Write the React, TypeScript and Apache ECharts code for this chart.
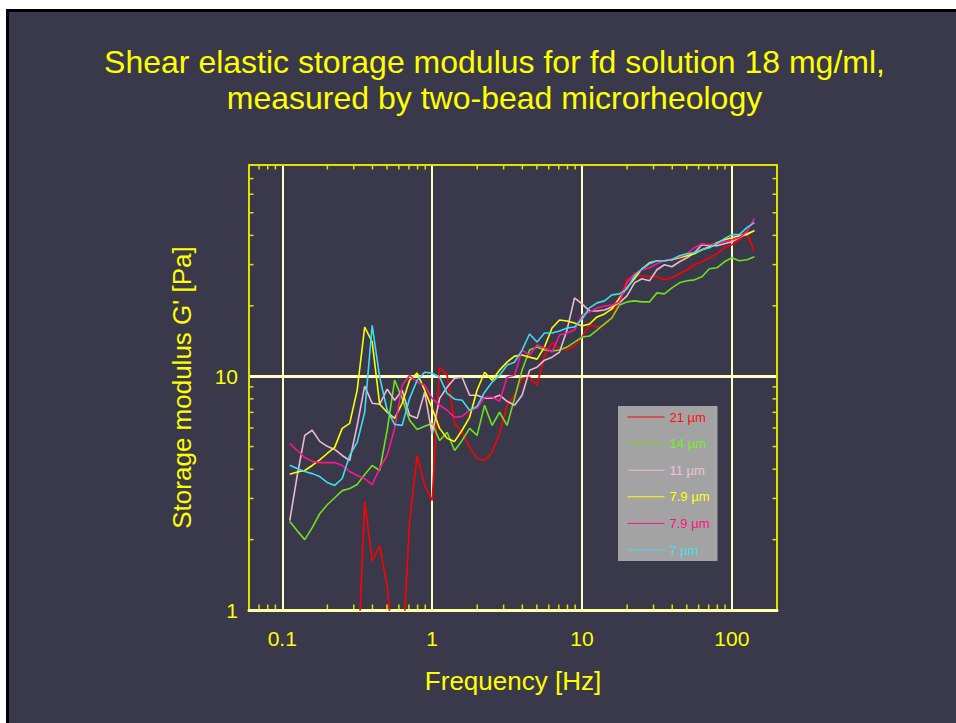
import React, { useEffect, useRef } from "react";
import * as echarts from "echarts";

// ---- data ----
const freqHz = [
  0.1122, 0.1259, 0.1413, 0.1585, 0.1778, 0.1995, 0.2239, 0.2512, 0.2818, 0.3162,
  0.3548, 0.3981, 0.4467, 0.5012, 0.5623, 0.631, 0.7079, 0.7943, 0.8913, 1.0,
  1.122, 1.259, 1.413, 1.585, 1.778, 1.995, 2.239, 2.512, 2.818, 3.162,
  3.548, 3.981, 4.467, 5.012, 5.623, 6.31, 7.079, 7.943, 8.913, 10.0,
  11.22, 12.59, 14.13, 15.85, 17.78, 19.95, 22.39, 25.12, 28.18, 31.62,
  35.48, 39.81, 44.67, 50.12, 56.23, 63.1, 70.79, 79.43, 89.13, 100.0,
  112.2, 125.9, 141.3,
];

const g21um = [
  null, null, null, null, null, null, null, null, null, 0.5,
  2.91, 1.62, 1.88, 1.27, 0.6, 0.6, 2.41, 4.58, 3.41, 2.94,
  10.9, 10.1, 6.28, 5.75, 4.96, 4.45, 4.36, 4.72, 5.69, 7.51,
  8.29, 9.8, 9.9, 9.15, 12.31, 13.86, 13.19, 12.93, 13.45, 14.7,
  16.55, 16.23, 16.55, 17.92, 21.2, 25.82, 27.13, 26.86, 26.6, 26.6,
  25.82, 26.34, 27.4, 28.51, 29.95, 30.85, 32.1, 33.39, 35.43, 36.49,
  38.34, 41.09, 34.06,
];

const g14um = [
  2.39, 2.18, 2.0, 2.25, 2.58, 2.82, 3.02, 3.24, 3.31, 3.44,
  3.8, 4.15, 3.95, 5.87, 9.61, 8.04, 6.47, 5.92, 6.1, 6.28,
  5.31, 5.75, 4.81, 5.31, 5.98, 5.58, 7.51, 6.16, 7.01, 6.16,
  8.04, 10.61, 12.93, 13.32, 12.93, 12.81, 12.93, 13.32, 13.99, 14.7,
  14.85, 15.75, 16.72, 17.74, 20.17, 20.78, 20.99, 20.78, 20.78, 22.71,
  22.49, 23.86, 25.07, 25.57, 25.82, 26.6, 28.79, 29.08, 30.85, 32.1,
  31.16, 31.47, 32.41,
];

const g11um = [
  2.41, 3.76, 5.58, 5.87, 5.26, 5.01, 4.86, 4.58, 4.36, 6.16,
  9.06, 7.66, 7.58, 8.8, 7.89, 8.71, 6.8, 6.6, 8.54, 5.64,
  8.04, 8.97, 9.8, 9.9, 8.29, 8.29, 8.04, 8.04, 8.29, 7.81,
  7.51, 8.29, 10.61, 10.93, 11.71, 12.06, 12.68, 15.75, 21.61, 20.37,
  19.01, 19.01, 19.2, 19.78, 20.58, 22.04, 25.07, 26.09, 25.57, 28.51,
  29.95, 29.37, 30.85, 32.1, 33.73, 36.49, 36.13, 36.13, 36.86, 37.59,
  39.12, 40.69, 41.92,
];

const g7p9umA = [
  3.81, 3.89, 3.95, 4.15, 4.39, 4.67, 4.96, 5.98, 6.28, 8.71,
  16.23, 14.0, 7.58, 7.01, 6.6, 7.66, 9.61, 10.3, 8.71, 7.29,
  5.98, 5.42, 5.26, 5.87, 6.67, 8.71, 10.4, 9.61, 10.61, 11.48,
  12.18, 12.31, 12.06, 11.83, 13.32, 16.07, 17.39, 17.22, 16.89, 16.39,
  16.72, 17.92, 18.46, 19.39, 21.61, 23.86, 26.09, 28.79, 30.55, 31.16,
  31.16, 31.47, 32.1, 32.73, 33.39, 34.74, 35.78, 37.22, 38.34, 39.12,
  39.9, 40.3, 41.92,
];

const g7p9umB = [
  5.16, 4.81, 4.49, 4.32, 4.27, 4.27, 4.27, 4.15, 3.91, 3.76,
  3.65, 3.44, 4.03, 4.58, 5.98, 9.15, 10.1, 9.42, 9.15, 8.04,
  7.51, 7.15, 6.67, 6.73, 7.15, 7.29, 8.13, 8.13, 7.81, 9.9,
  10.1, 12.93, 12.31, 13.59, 13.19, 12.68, 15.0, 15.29, 15.75, 18.27,
  18.82, 19.58, 19.97, 20.17, 20.78, 25.07, 27.4, 28.51, 29.08, 30.24,
  31.16, 31.78, 32.41, 33.39, 35.43, 36.86, 36.49, 36.86, 37.59, 38.34,
  39.12, 41.5, 47.19,
];

const g7um = [
  4.16, 4.03, 3.91, 3.83, 3.72, 3.51, 3.41, 3.65, 4.58, 5.21,
  7.01, 16.5, 9.9, 7.15, 6.22, 6.16, 8.04, 9.61, 10.4, 10.3,
  9.9, 8.45, 7.97, 7.89, 7.15, 7.43, 8.54, 9.42, 10.1, 11.15,
  11.48, 12.93, 15.15, 13.99, 15.29, 15.29, 15.6, 16.07, 16.23, 17.57,
  19.58, 20.58, 20.99, 22.27, 22.49, 23.62, 26.86, 28.79, 30.24, 31.16,
  31.16, 31.47, 32.73, 33.39, 33.73, 34.74, 35.43, 36.86, 38.73, 40.3,
  40.3, 43.18, 45.37,
];

const seriesNames = ["21 µm", "14 µm", "11 µm", "7.9 µm", "7.9 µm ", "7 µm"];
const seriesValues = [g21um, g14um, g11um, g7p9umA, g7p9umB, g7um];
const seriesColors = ["#ff0000", "#6ee01e", "#ecb8d0", "#ffff00", "#ff1493", "#3fdcf0"];
const legendTextColors = ["#ff1010", "#74f024", "#f0c4da", "#ffff10", "#ff1088", "#44e0f0"];

const xTickLabels = ["0.1", "1", "10", "100"];
const yTickLabels = ["1", "10"];
const xMinorTicks = [
  0.07, 0.08, 0.09, 0.2, 0.3, 0.4, 0.5, 0.6, 0.7, 0.8, 0.9,
  2, 3, 4, 5, 6, 7, 8, 9, 20, 30, 40, 50, 60, 70, 80, 90,
];
const yMinorTicks = [2, 3, 4, 5, 6, 7, 8, 9, 20, 30, 40, 50, 60, 70];

const X_MIN = 0.06;
const X_MAX = 200;
const Y_MIN = 1;
const Y_MAX = 80;

const FONT = '"Liberation Sans", Arial, Helvetica, sans-serif';
const TEXT = "#ffff00";
const FRAME = "#e2e200";
const GRID = "#ffffc0";
const BG = "#3a394b";

export default function App() {
  const ref = useRef<HTMLDivElement>(null);

  useEffect(() => {
    const chart = echarts.init(ref.current as HTMLDivElement, undefined, { renderer: "svg" });

    const fmt = (labels: string[]) => (v: number) => {
      const s = String(Number(v.toPrecision(6)));
      return labels.indexOf(s) >= 0 ? s : "";
    };

    const option: any = {
      animation: false,
      backgroundColor: "transparent",
      title: {
        text: "Shear elastic storage modulus for fd solution 18 mg/ml,\nmeasured by two-bead microrheology",
        left: 494.5,
        top: 44,
        padding: 0,
        textAlign: "center",
        textStyle: { color: TEXT, fontSize: 32, fontWeight: "normal", lineHeight: 36, fontFamily: FONT },
      },
      legend: {
        orient: "vertical",
        left: 618,
        top: 406,
        padding: [4, 8, 4, 9],
        backgroundColor: "#a3a3a3",
        itemWidth: 37,
        itemHeight: 14,
        itemGap: 12.6,
        selectedMode: false,
        lineStyle: { width: 1 },
        itemStyle: { opacity: 0, borderWidth: 0 },
        formatter: (n: string) => n.trim(),
        textStyle: { fontSize: 13, lineHeight: 14, fontFamily: FONT },
        data: seriesNames.map((n, i) => ({ name: n, textStyle: { color: legendTextColors[i] } })),
      },
      grid: { left: 249, top: 165, width: 528, height: 445, containLabel: false, outerBoundsMode: "none" },
      xAxis: [
        {
          type: "log",
          logBase: 10,
          min: X_MIN,
          max: X_MAX,
          position: "bottom",
          axisLine: { show: true, onZero: false, lineStyle: { color: "#ffffa8", width: 3 } },
          axisTick: { show: false },
          axisLabel: { color: TEXT, fontSize: 21, margin: 18, fontFamily: FONT, formatter: fmt(xTickLabels) },
          splitLine: { show: true, showMinLine: false, showMaxLine: false, lineStyle: { color: GRID, width: 2 } },
          name: "Frequency [Hz]",
          nameLocation: "middle",
          nameGap: 58,
          nameTextStyle: { color: TEXT, fontSize: 26, fontFamily: FONT },
        },
        {
          type: "log",
          logBase: 10,
          min: X_MIN,
          max: X_MAX,
          position: "top",
          axisLine: { show: true, onZero: false, lineStyle: { color: FRAME, width: 2 } },
          axisTick: { show: false },
          axisLabel: { show: false },
          splitLine: { show: false },
        },
      ],
      yAxis: [
        {
          type: "log",
          logBase: 10,
          min: Y_MIN,
          max: Y_MAX,
          position: "left",
          axisLine: { show: true, onZero: false, lineStyle: { color: FRAME, width: 2 } },
          axisTick: { show: false },
          axisLabel: { color: TEXT, fontSize: 21, margin: 11, fontFamily: FONT, formatter: fmt(yTickLabels) },
          splitLine: { show: true, showMinLine: false, showMaxLine: false, lineStyle: { color: GRID, width: 3 } },
          name: "Storage modulus G' [Pa]",
          nameLocation: "middle",
          nameGap: 54,
          nameTextStyle: { color: TEXT, fontSize: 26, fontFamily: FONT },
        },
        {
          type: "log",
          logBase: 10,
          min: Y_MIN,
          max: Y_MAX,
          position: "right",
          axisLine: { show: true, onZero: false, lineStyle: { color: FRAME, width: 2 } },
          axisTick: { show: false },
          axisLabel: { show: false },
          splitLine: { show: false },
        },
      ],
      series: seriesNames.map((name, i) => ({
        name,
        type: "line",
        xAxisIndex: 0,
        yAxisIndex: 0,
        symbol: "none",
        showSymbol: false,
        clip: true,
        color: seriesColors[i],
        lineStyle: { color: seriesColors[i], width: 1.6 },
        data: freqHz
          .map((f, k) => [f, seriesValues[i][k]])
          .filter((p) => p[1] !== null && p[1] !== undefined),
      })),
    };

    chart.setOption(option);

    const xp = (v: number) => chart.convertToPixel({ xAxisIndex: 0 }, v) as number;
    const yp = (v: number) => chart.convertToPixel({ yAxisIndex: 0 }, v) as number;
    const left = xp(X_MIN);
    const right = xp(X_MAX);
    const bottom = yp(Y_MIN);
    const top = yp(Y_MAX);
    const TICK = 4.5;
    const st = { stroke: FRAME, lineWidth: 1.5 };
    const els: any[] = [];
    xMinorTicks.forEach((v) => {
      const x = xp(v);
      els.push({ type: "line", shape: { x1: x, y1: bottom - 1, x2: x, y2: bottom - 1 - TICK }, style: st, z: 5 });
      els.push({ type: "line", shape: { x1: x, y1: top, x2: x, y2: top + TICK }, style: st, z: 5 });
    });
    yMinorTicks.forEach((v) => {
      const y = yp(v);
      els.push({ type: "line", shape: { x1: left, y1: y, x2: left + TICK, y2: y }, style: st, z: 5 });
      els.push({ type: "line", shape: { x1: right, y1: y, x2: right - TICK, y2: y }, style: st, z: 5 });
    });
    chart.setOption({ graphic: { elements: els } });

    return () => chart.dispose();
  }, []);

  return (
    <div style={{ position: "fixed", left: 0, top: 0, width: 956, height: 723, background: "#ffffff", overflow: "hidden" }}>
      <div
        style={{
          position: "absolute",
          left: 6,
          top: 9,
          width: 960,
          height: 730,
          boxSizing: "border-box",
          background: BG,
          borderLeft: "3px solid #000",
          borderTop: "3px solid #000",
        }}
      />
      <div ref={ref} style={{ position: "absolute", left: 0, top: 0, width: 956, height: 723 }} />
    </div>
  );
}
